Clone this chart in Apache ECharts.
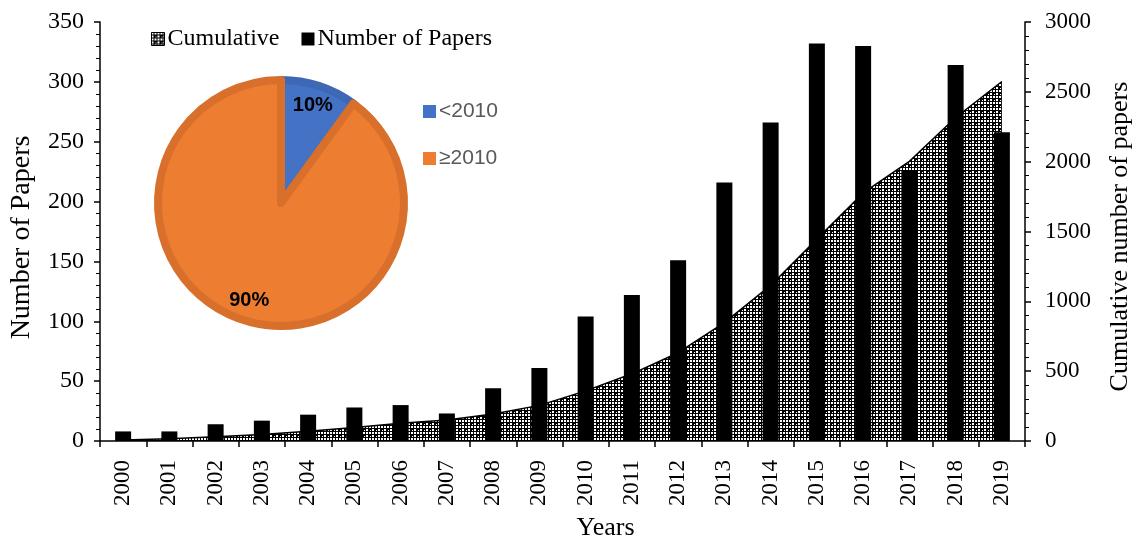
<!DOCTYPE html>
<html>
<head>
<meta charset="utf-8">
<script src="https://cdn.jsdelivr.net/npm/echarts@6/dist/echarts.min.js"></script>
<style>
  html, body { margin: 0; padding: 0; background: #fff; }
  #chart { width: 1132px; height: 535px; }
</style>
</head>
<body>
<div id="chart"></div>
<script>
// Publication years on the category axis
const years = ['2000', '2001', '2002', '2003', '2004', '2005', '2006', '2007', '2008', '2009',
               '2010', '2011', '2012', '2013', '2014', '2015', '2016', '2017', '2018', '2019'];
// Papers published in each year
const papers = [8, 8, 14, 17, 22, 28, 30, 23, 44, 61,
                104, 122, 151, 216, 266, 332, 330, 226, 314, 258];
// Running total of papers up to each year
const cumulative = [8, 16, 30, 47, 69, 97, 127, 150, 194, 255,
                    359, 481, 632, 848, 1114, 1446, 1776, 2002, 2316, 2574];
// Share of papers before / since 2010 (percent)
const pieNames = ['<2010', '≥2010'];
const pieShares = [10, 90];

const serif = '"Liberation Serif", "Times New Roman", serif';
const sans = '"Liberation Sans", Arial, sans-serif';

// Small black-and-white grid used to fill the cumulative area
function makeGridTile() {
  const c = document.createElement('canvas');
  c.width = 6; c.height = 6;
  const g = c.getContext('2d');
  g.fillStyle = '#000';
  g.fillRect(0, 0, 6, 6);
  g.fillStyle = '#fff';
  [[0, 0, 2, 2], [3, 0, 2, 2], [0, 3, 2, 2], [4, 4, 1, 1]].forEach(([x, y, w, h]) => g.fillRect(x, y, w, h));
  return c;
}
const gridFill = { image: makeGridTile(), repeat: 'repeat' };

const pieFill = ['#4472C4', '#ED7D31'];
const pieEdge = ['#3E68B6', '#D8702C'];
const pieCenter = [281, 203];

const chart = echarts.init(document.getElementById('chart'), null, { renderer: 'canvas' });

const axisBlack = { color: '#000', width: 1.5 };
const plainNumber = v => String(v);

chart.setOption({
  animation: false,
  grid: { left: 100, right: 107, top: 22, bottom: 94, containLabel: false, outerBoundsMode: 'none' },
  legend: [
    {
      data: [
        { name: 'Cumulative', icon: 'rect',
          itemStyle: { color: gridFill, borderColor: '#000', borderWidth: 1 } },
        { name: 'Number of Papers', icon: 'rect', itemStyle: { color: '#000' } }
      ],
      left: 146, top: 22,
      itemWidth: 13, itemHeight: 13, itemGap: 22,
      textStyle: { fontFamily: serif, fontSize: 24, color: '#000', padding: [0, 0, 0, -2] }
    },
    {
      data: [
        { name: pieNames[0], icon: 'rect', itemStyle: { color: pieFill[0], borderWidth: 0 } },
        { name: pieNames[1], icon: 'rect', itemStyle: { color: pieFill[1], borderWidth: 0 } }
      ],
      orient: 'vertical', left: 418, top: 96,
      itemWidth: 13, itemHeight: 13, itemGap: 26,
      textStyle: { fontFamily: sans, fontSize: 21, color: '#595959', padding: [0, 0, 0, -2] }
    }
  ],
  xAxis: {
    type: 'category',
    data: years,
    boundaryGap: true,
    name: 'Years',
    nameLocation: 'middle',
    nameGap: 74,
    nameTextStyle: { fontFamily: serif, fontSize: 26, color: '#000', padding: [0, 0, 0, 86] },
    axisLine: { show: true, lineStyle: axisBlack },
    axisTick: { show: true, length: 6, interval: 0, lineStyle: axisBlack },
    axisLabel: { interval: 0, rotate: 90, margin: 19, fontFamily: serif, fontSize: 23, color: '#000' },
    splitLine: { show: false }
  },
  yAxis: [
    {
      type: 'value',
      min: 0, max: 350, interval: 50,
      name: 'Number of Papers',
      nameLocation: 'middle',
      nameRotate: 90,
      nameGap: 64,
      nameTextStyle: { fontFamily: serif, fontSize: 28, color: '#000', padding: [0, 12, 0, 0] },
      axisLine: { show: true, lineStyle: axisBlack },
      axisTick: { show: true, length: 6, lineStyle: axisBlack },
      minorTick: { show: true, splitNumber: 5, length: 4, lineStyle: { color: '#000', width: 1 } },
      axisLabel: { margin: 16, fontFamily: serif, fontSize: 24, color: '#000', formatter: plainNumber },
      splitLine: { show: false }
    },
    {
      type: 'value',
      min: 0, max: 3000, interval: 500,
      name: 'Cumulative number of papers',
      nameLocation: 'middle',
      nameRotate: 90,
      nameGap: 82,
      nameTextStyle: { fontFamily: serif, fontSize: 26, color: '#000', padding: [0, 10, 0, 0] },
      axisLine: { show: true, lineStyle: axisBlack },
      axisTick: { show: true, length: 6, lineStyle: axisBlack },
      minorTick: { show: true, splitNumber: 5, length: 4, lineStyle: { color: '#000', width: 1 } },
      axisLabel: { margin: 20, fontFamily: serif, fontSize: 23, color: '#000', formatter: plainNumber },
      splitLine: { show: false }
    }
  ],
  series: [
    {
      name: 'Cumulative',
      type: 'line',
      yAxisIndex: 1,
      data: cumulative,
      symbol: 'none',
      lineStyle: { color: '#000', width: 1.5 },
      itemStyle: { color: '#000' },
      areaStyle: { color: gridFill, opacity: 1 },
      z: 1
    },
    {
      name: 'Number of Papers',
      type: 'bar',
      yAxisIndex: 0,
      data: papers,
      barWidth: 16,
      itemStyle: { color: '#000' },
      z: 2
    },
    {
      name: 'Share',
      type: 'pie',
      center: pieCenter,
      radius: 123,
      startAngle: 90,
      clockwise: true,
      data: pieNames.map((n, i) => ({
        name: n, value: pieShares[i],
        itemStyle: { color: pieFill[i], borderColor: pieEdge[i], borderWidth: 8 }
      })),
      label: { show: false },
      labelLine: { show: false },
      emphasis: { disabled: true },
      z: 5
    },
    {
      // transparent ring that places the percentage labels near the rim
      name: 'Share labels',
      type: 'pie',
      center: pieCenter,
      radius: [74, 126],
      startAngle: 90,
      clockwise: true,
      silent: true,
      data: pieNames.map((n, i) => ({ name: n, value: pieShares[i] })),
      itemStyle: { color: 'rgba(0,0,0,0)', borderWidth: 0 },
      label: {
        show: true, position: 'inside', formatter: '{c}%',
        fontFamily: sans, fontWeight: 'bold', fontSize: 20, color: '#000'
      },
      labelLine: { show: false },
      emphasis: { disabled: true },
      z: 6
    }
  ]
});
</script>
</body>
</html>
